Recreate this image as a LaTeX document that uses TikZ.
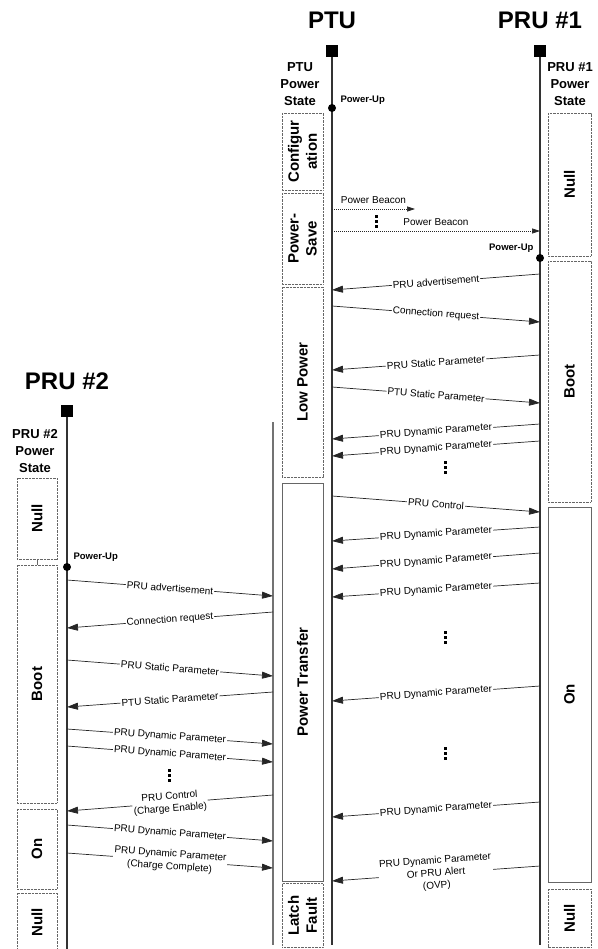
\documentclass[tikz,border=0pt]{standalone}
\usepackage{fontspec}
\setmainfont{Liberation Sans}
\usetikzlibrary{arrows.meta,positioning}

\tikzset{
    lifeline/.style={draw=black!80, line width=1.1pt},
    head/.style={fill=black, minimum size=12pt, inner sep=0pt},
    pdot/.style={circle, fill=black, minimum size=8pt, inner sep=0pt},
    msg/.style={draw=black!85, line width=0.7pt, -{Triangle[length=11pt,width=7pt]}},
    beacon/.style={draw=black!85, line width=0.7pt, dash pattern=on 1pt off 1pt,
                   -{Triangle[length=8pt,width=5pt]}},
    msglabel/.style={midway, sloped, fill=white, inner sep=1pt, align=center,
                     font=\fontsize{10}{12.5}\selectfont},
    statebox/.style={draw=black!60, dash pattern=on 0.7pt off 0.7pt, line width=0.8pt,
                     rotate=90, align=center, inner sep=0pt,
                     font=\bfseries\fontsize{15}{18}\selectfont},
    solidbox/.style={statebox, solid},
    title/.style={font=\bfseries\fontsize{24}{26}\selectfont},
    statehead/.style={font=\bfseries\fontsize{13}{17}\selectfont, align=center},
    uplabel/.style={font=\bfseries\fontsize{9.5}{10}\selectfont},
    dotmark/.style={fill=black, minimum size=3pt, inner sep=0pt}
}

\begin{document}
\begin{tikzpicture}[x=1pt, y=-1pt]
    \useasboundingbox (0,0) rectangle (597,949);

    % Titles and heads
    \node[title] (ptutitle) at (332,20) {PTU};
    \node[title] (pru1title) at (540,20) {PRU \#1};
    \node[title] (pru2title) at (67,381) {PRU \#2};
    \node[head] (ptuhead) at (332,51) {};
    \node[head] (pru1head) at (540,51) {};
    \node[head] (pru2head) at (67,411) {};
    \node[statehead] (ptustate) at (300,84) {PTU\\Power\\State};
    \node[statehead] (pru1state) at (570,84) {PRU \#1\\Power\\State};
    \node[statehead] (pru2state) at (35,451) {PRU \#2\\Power\\State};

    % Lifelines
    \coordinate (ptuend) at (332,945);
    \coordinate (pru1end) at (540,945);
    \coordinate (pru2end) at (67,949);
    \coordinate (ptubtop) at (273,422);
    \coordinate (ptubend) at (273,945);
    \draw[lifeline] (ptuhead.south) -- (ptuend);
    \draw[lifeline] (pru1head.south) -- (pru1end);
    \draw[lifeline] (pru2head.south) -- (pru2end);
    \draw[lifeline, draw=black!55] (ptubtop) -- (ptubend);

    % State boxes
    \foreach \n/\y/\h/\txt/\sty in {
        cfg/151.5/77/{Configur\\ation}/statebox,
        psave/238.5/91/{Power-\\Save}/statebox,
        lowp/382/190/Low Power/statebox,
        ptrans/682/398/Power Transfer/solidbox,
        latch/915.5/64/{Latch\\Fault}/statebox} {
        \node[\sty, minimum width=\h pt, minimum height=41pt] (\n) at (302.5,\y) {\txt};
    }
    \foreach \n/\y/\h/\txt/\sty in {
        aNull/184.5/143/Null/statebox,
        aBoot/381.5/241/Boot/statebox,
        aOn/694.5/375/On/solidbox,
        aNullb/918/58/Null/statebox} {
        \node[\sty, minimum width=\h pt, minimum height=43pt] (\n) at (569.5,\y) {\txt};
    }
    \foreach \n/\y/\h/\txt in {
        bNull/518.5/81/Null,
        bBoot/684/238/Boot,
        bOn/849/80/On,
        bNullb/922/58/Null} {
        \node[statebox, minimum width=\h pt, minimum height=40pt] (\n) at (37,\y) {\txt};
    }
    \draw[draw=black!60, line width=0.6pt] (bNull.west) -- (bBoot.east);

    % Power-up events
    \node[pdot] (ptuup) at (332,108) {};
    \node[uplabel, anchor=west] (ptuuplabel) at (337,100) {Power-Up};
    \node[pdot] (pru1up) at (540,258) {};
    \node[uplabel, anchor=east] (pru1uplabel) at (537,248) {Power-Up};
    \node[pdot] (pru2up) at (67,567) {};
    \node[uplabel, anchor=west] (pru2uplabel) at (70,557) {Power-Up};

    % Power beacons
    \coordinate (bc1a) at (332,209);
    \coordinate (bc1b) at (415,209);
    \coordinate (bc2a) at (332,231);
    \coordinate (bc2b) at (540,231);
    \draw[beacon] (bc1a) -- node[midway, above=2pt, font=\fontsize{10}{11}\selectfont] {Power Beacon} (bc1b);
    \draw[beacon] (bc2a) -- node[midway, above=2pt, font=\fontsize{10}{11}\selectfont] {Power Beacon} (bc2b);

    % PTU -> PRU #1
    \foreach \n/\ya/\yb/\txt in {
        1/306/322/Connection request,
        2/387/403/PTU Static Parameter,
        3/496/512/PRU Control} {
        \coordinate (tx\n) at (332,\ya);
        \coordinate (rx\n) at (540,\yb);
        \draw[msg] (tx\n) -- node[msglabel] {\txt} (rx\n);
    }
    % PRU #1 -> PTU
    \foreach \n/\ya/\yb/\txt in {
        1/274/290/PRU advertisement,
        2/355/370/PRU Static Parameter,
        3/424/439/PRU Dynamic Parameter,
        4/441/456/PRU Dynamic Parameter,
        5/527/541/PRU Dynamic Parameter,
        6/553/569/PRU Dynamic Parameter,
        7/583/597/PRU Dynamic Parameter,
        8/686/701/PRU Dynamic Parameter,
        9/802/817/PRU Dynamic Parameter,
        10/866/881/{PRU Dynamic Parameter\\Or PRU Alert\\(OVP)}} {
        \coordinate (ry\n) at (540,\ya);
        \coordinate (ty\n) at (332,\yb);
        \draw[msg] (ry\n) -- node[msglabel] {\txt} (ty\n);
    }

    % PTU -> PRU #2
    \foreach \n/\ya/\yb/\txt in {
        1/612/628/Connection request,
        2/692/707/PTU Static Parameter,
        3/795/811/{PRU Control\\(Charge Enable)}} {
        \coordinate (tz\n) at (273,\ya);
        \coordinate (qz\n) at (67,\yb);
        \draw[msg] (tz\n) -- node[msglabel] {\txt} (qz\n);
    }
    % PRU #2 -> PTU
    \foreach \n/\ya/\yb/\txt in {
        1/580/596/PRU advertisement,
        2/660/676/PRU Static Parameter,
        3/729/744/PRU Dynamic Parameter,
        4/746/762/PRU Dynamic Parameter,
        5/825/841/PRU Dynamic Parameter,
        6/853/868/{PRU Dynamic Parameter\\(Charge Complete)}} {
        \coordinate (qw\n) at (67,\ya);
        \coordinate (tw\n) at (273,\yb);
        \draw[msg] (qw\n) -- node[msglabel] {\txt} (tw\n);
    }

    % Ellipses (three stacked dots)
    \foreach \n/\x/\y in {1/376/222, 2/445/467, 3/445/637, 4/445/753, 5/169/775} {
        \foreach \d in {-5,0,5} {
            \node[dotmark] at (\x,\y+\d) {};
        }
    }
\end{tikzpicture}
\end{document}
